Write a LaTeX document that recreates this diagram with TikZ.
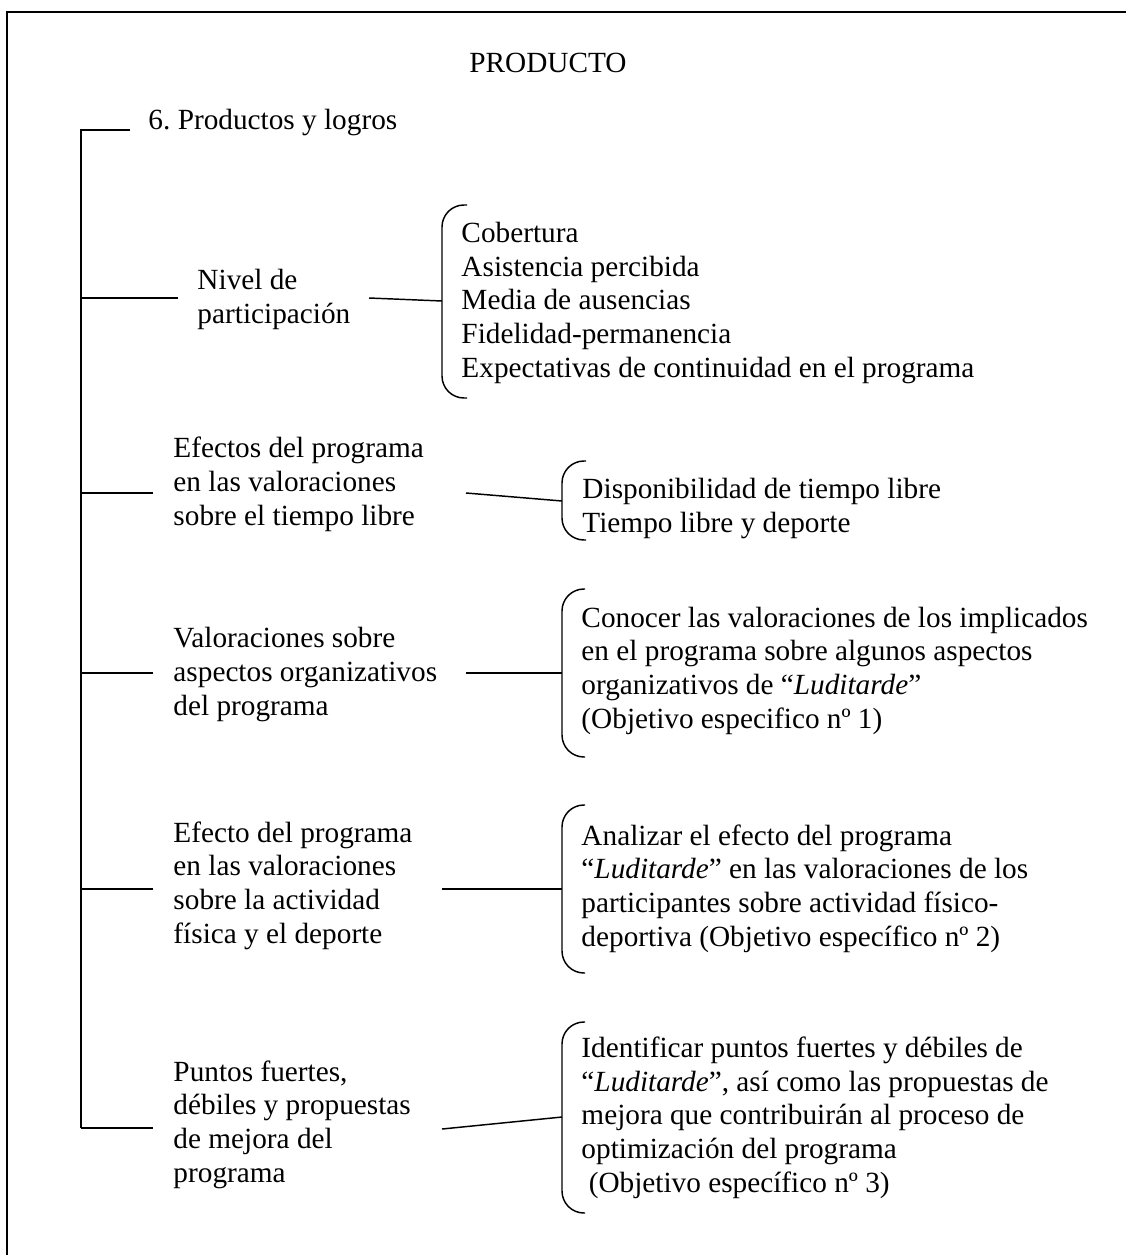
\documentclass[tikz,border=0pt]{standalone}
\usepackage{fontspec}
\setmainfont{Liberation Serif}
\usetikzlibrary{positioning,calc}

\begin{document}
\frenchspacing
\begin{tikzpicture}[
    x=0.41pt, y=-0.41pt,
    every node/.style={font=\fontsize{12pt}{13.8pt}\selectfont, inner sep=0pt},
    label/.style={anchor=base west, align=left},
    item/.style={anchor=base west, align=left},
    trunk/.style={line width=1pt},
    branch/.style={line width=0.6pt},
    bracket/.style={line width=0.6pt, rounded corners=9pt},
]
\useasboundingbox (0,0) rectangle (1126,1255);

% Frame (open at right and bottom)
\draw[line width=0.8pt] (7,1255) -- (7,12) -- (1126,12);

% Title
\node[anchor=base] (title) at (548,73) {PRODUCTO};

% Spine
\node[label] (productos) at (148,130) {6. Productos y logros};
\coordinate (spinetop) at (81,130);
\coordinate (spinebot) at (81,1128);
\draw[trunk] ($(productos.base west)+(-18,0)$) -- (spinetop) -- (spinebot);

% Nivel de participacion (nodes sit on their last baseline)
\node[label] (nivel) at (197,323) {Nivel de\\participación};
\coordinate (nivel-a) at (178,298);
\coordinate (nivel-b) at (369,298);
\coordinate (nivel-c) at (442,301);
\draw[branch] (spinetop |- nivel-a) -- (nivel-a);
\draw[branch] (nivel-b) -- (nivel-c);
\draw[bracket] (467,205) -- (442,205) -- (442,398) -- (467,398);
\node[item] (nivel-items) at (461,377) {Cobertura\\Asistencia percibida\\Media de ausencias\\Fidelidad-permanencia\\Expectativas de continuidad en el programa};

% Efectos en el tiempo libre
\node[label] (efectos) at (173,525) {Efectos del programa\\en las valoraciones\\sobre el tiempo libre};
\coordinate (efectos-a) at (153,493);
\coordinate (efectos-b) at (466,493);
\coordinate (efectos-c) at (562,501);
\draw[branch] (spinetop |- efectos-a) -- (efectos-a);
\draw[branch] (efectos-b) -- (efectos-c);
\draw[bracket] (586,461) -- (562,461) -- (562,540) -- (586,540);
\node[item] (efectos-items) at (582,532) {Disponibilidad de tiempo libre\\Tiempo libre y deporte};

% Valoraciones organizativas
\node[label] (valoraciones) at (173,715) {Valoraciones sobre\\aspectos organizativos\\del programa};
\coordinate (valoraciones-a) at (153,673);
\coordinate (valoraciones-b) at (466,673);
\coordinate (valoraciones-c) at (562,673);
\draw[branch] (spinetop |- valoraciones-a) -- (valoraciones-a);
\draw[branch] (valoraciones-b) -- (valoraciones-c);
\draw[bracket] (585,589) -- (562,589) -- (562,757) -- (585,757);
\node[item] (valoraciones-items) at (581,728) {Conocer las valoraciones de los implicados\\en el programa sobre algunos aspectos\\organizativos de “\textit{Luditarde}”\\(Objetivo especifico nº 1)};

% Efecto en la actividad fisica
\node[label] (efecto) at (173,943) {Efecto del programa\\en las valoraciones\\sobre la actividad\\física y el deporte};
\coordinate (efecto-a) at (153,889);
\coordinate (efecto-b) at (442,889);
\coordinate (efecto-c) at (562,889);
\draw[branch] (spinetop |- efecto-a) -- (efecto-a);
\draw[branch] (efecto-b) -- (efecto-c);
\draw[bracket] (585,805) -- (562,805) -- (562,973) -- (585,973);
\node[item] (efecto-items) at (581,946) {Analizar el efecto del programa\\“\textit{Luditarde}” en las valoraciones de los\\participantes sobre actividad físico-\\deportiva (Objetivo específico nº 2)};

% Puntos fuertes y debiles
\node[label] (puntos) at (173,1182) {Puntos fuertes,\\débiles y propuestas\\de mejora del\\programa};
\coordinate (puntos-a) at (153,1128);
\coordinate (puntos-b) at (442,1129);
\coordinate (puntos-c) at (562,1117);
\draw[branch] (spinebot) -- (puntos-a);
\draw[branch] (puntos-b) -- (puntos-c);
\draw[bracket] (585,1022) -- (562,1022) -- (562,1213) -- (585,1213);
\node[item] (puntos-items) at (581,1192) {Identificar puntos fuertes y débiles de\\“\textit{Luditarde}”, así como las propuestas de\\mejora que contribuirán al proceso de\\optimización del programa\\\hspace*{0.25em}(Objetivo específico nº 3)};

\end{tikzpicture}
\end{document}
